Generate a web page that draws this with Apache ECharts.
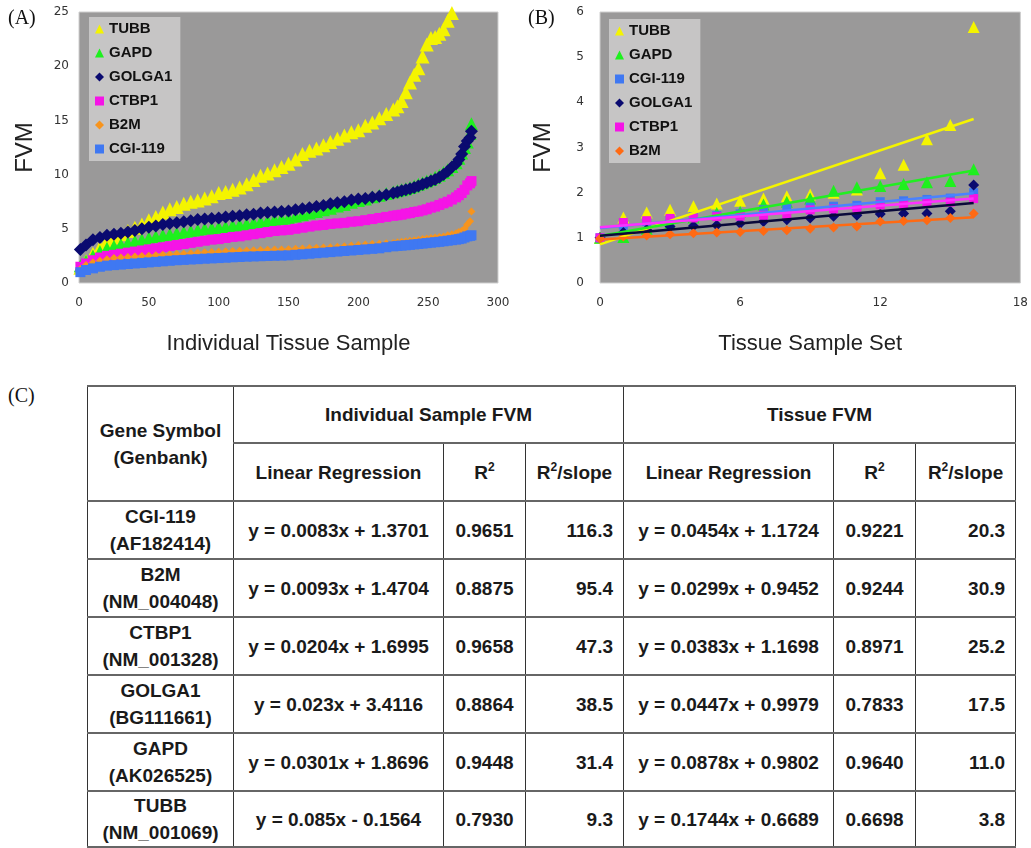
<!DOCTYPE html>
<html>
<head>
<meta charset="utf-8">
<script src="https://cdn.jsdelivr.net/npm/echarts@6/dist/echarts.min.js"></script>
<style>
  body { margin: 0; background: #fff; width: 1031px; height: 848px; position: relative; overflow: hidden; }
  #main { width: 1031px; height: 380px; position: absolute; left: 0; top: 0; }
  #labC { position: absolute; left: 8px; top: 384px; font: 20px 'Liberation Serif', serif; color: #111; }
  #tbl { position: absolute; left: 87px; top: 385px; border-collapse: collapse; table-layout: fixed; width: 928px;
         font: bold 19px 'Liberation Sans', Arial, sans-serif; color: #1a1a1a; }
  #tbl td { border-left: 1px solid #333; border-right: 1px solid #333; border-top: 2px solid #666; border-bottom: 2px solid #666;
            text-align: center; vertical-align: middle; line-height: 27px; padding: 0; }
  #tbl td.num { text-align: right; padding-right: 10px; }
  #tbl sup { font-size: 12px; vertical-align: 8px; line-height: 0; }
</style>
</head>
<body>
<div id="main"></div>
<div id="labC">(C)</div>
<table id="tbl">
  <colgroup>
    <col style="width:146px"><col style="width:210px"><col style="width:82px"><col style="width:98px">
    <col style="width:210px"><col style="width:82px"><col style="width:100px">
  </colgroup>
  <tbody id="tbody">
    <tr style="height:57px">
      <td rowspan="2">Gene Symbol<br>(Genbank)</td>
      <td colspan="3">Individual Sample FVM</td>
      <td colspan="3">Tissue FVM</td>
    </tr>
    <tr style="height:58px">
      <td>Linear Regression</td><td>R<sup>2</sup></td><td>R<sup>2</sup>/slope</td>
      <td>Linear Regression</td><td>R<sup>2</sup></td><td>R<sup>2</sup>/slope</td>
    </tr>
  </tbody>
</table>
<script>
// ---- panel A: individual tissue samples (sorted FVM) ----
const sampleIdx = [1, 5, 10, 15, 20, 25, 30, 35, 40, 45, 50, 55, 60, 65, 70, 75, 80, 85, 90, 95,
  100, 105, 110, 115, 120, 125, 130, 135, 140, 145, 150, 155, 160, 165, 170, 175, 180, 185, 190, 195,
  200, 205, 210, 215, 220, 225,
  228, 231, 234, 237, 240, 243, 246, 249, 252, 255, 258, 261, 264, 267, 270, 272, 274, 276, 278, 280, 281];

const tubbA = [1.4, 2.0, 2.7, 3.3, 3.9, 4.2, 4.5, 4.8, 5.1, 5.4, 5.8, 6.1, 6.5, 6.8, 7.0, 7.3, 7.5, 7.6, 7.8, 8.0,
  8.3, 8.4, 8.6, 8.8, 9.1, 9.5, 9.9, 10.1, 10.4, 10.7, 11.0, 11.4, 11.9, 12.2, 12.4, 12.7, 13.0, 13.3, 13.6, 13.9,
  14.1, 14.5, 14.8, 15.2, 15.6, 16.0,
  16.3, 16.8, 17.6, 18.5, 19.2, 19.8, 20.9, 22.0, 22.6, 22.7, 23.0, 23.4, 24.2, 24.9, null, null, null, null, null, null, null];
const gapdA = [1.6, 2.0, 2.5, 2.9, 3.2, 3.4, 3.55, 3.7, 3.85, 4.0, 4.15, 4.3, 4.4, 4.5, 4.6, 4.7, 4.8, 4.9, 5.0, 5.05,
  5.15, 5.2, 5.3, 5.35, 5.45, 5.55, 5.65, 5.75, 5.85, 5.95, 6.0, 6.15, 6.3, 6.45, 6.6, 6.75, 6.9, 7.1, 7.25, 7.45,
  7.6, 7.75, 7.95, 8.1, 8.25, 8.4,
  8.5, 8.6, 8.7, 8.8, 8.95, 9.1, 9.25, 9.4, 9.55, 9.75, 9.95, 10.2, 10.45, 10.75, 11.1, 11.5, 12.0, 12.5, 13.0, 13.8, 14.7];
const golgaA = [3.1, 3.5, 4.0, 4.2, 4.4, 4.5, 4.6, 4.7, 4.85, 5.0, 5.15, 5.25, 5.4, 5.5, 5.55, 5.65, 5.75, 5.85, 5.9, 5.95,
  6.0, 6.1, 6.15, 6.2, 6.3, 6.35, 6.45, 6.5, 6.55, 6.6, 6.65, 6.75, 6.85, 6.95, 7.05, 7.15, 7.3, 7.4, 7.5, 7.65,
  7.75, 7.8, 7.9, 8.0, 8.15, 8.3,
  8.4, 8.5, 8.6, 8.7, 8.8, 8.95, 9.1, 9.25, 9.4, 9.55, 9.75, 10.0, 10.3, 10.7, 11.0, 11.4, 11.9, 12.6, 13.1, 13.4, 14.0];
const ctbpA = [1.5, 1.8, 2.1, 2.35, 2.5, 2.6, 2.7, 2.8, 2.9, 3.0, 3.1, 3.2, 3.3, 3.4, 3.5, 3.6, 3.7, 3.8, 3.9, 4.0,
  4.05, 4.15, 4.25, 4.3, 4.4, 4.5, 4.6, 4.7, 4.8, 4.85, 4.9, 5.0, 5.1, 5.2, 5.3, 5.35, 5.45, 5.5, 5.55, 5.65,
  5.7, 5.8, 5.9, 6.0, 6.1, 6.2,
  6.25, 6.3, 6.4, 6.45, 6.55, 6.6, 6.7, 6.8, 6.95, 7.05, 7.2, 7.35, 7.5, 7.7, 7.9, 8.1, 8.3, 8.6, 9.0, 9.2, 9.4];
const b2mA = [1.3, 1.65, 1.9, 2.05, 2.2, 2.3, 2.35, 2.4, 2.45, 2.5, 2.52, 2.55, 2.6, 2.63, 2.67, 2.7, 2.75, 2.8, 2.83, 2.86,
  2.89, 2.92, 2.95, 2.97, 3.0, 3.02, 3.04, 3.06, 3.08, 3.1, 3.12, 3.15, 3.18, 3.22, 3.25, 3.28, 3.3, 3.35, 3.4, 3.45,
  3.5, 3.55, 3.6, 3.63, 3.66, 3.7,
  3.75, 3.8, 3.85, 3.9, 3.95, 4.0, 4.05, 4.1, 4.15, 4.2, 4.25, 4.3, 4.4, 4.5, 4.6, 4.7, 4.8, 5.0, 5.4, 5.7, 6.6];
const cgiA = [1.0, 1.2, 1.35, 1.5, 1.6, 1.65, 1.7, 1.75, 1.8, 1.85, 1.9, 1.95, 2.0, 2.05, 2.1, 2.13, 2.17, 2.2, 2.24, 2.27,
  2.3, 2.33, 2.37, 2.4, 2.43, 2.45, 2.47, 2.49, 2.51, 2.53, 2.55, 2.6, 2.65, 2.7, 2.75, 2.8, 2.85, 2.9, 2.95, 3.0,
  3.05, 3.1, 3.15, 3.2, 3.3, 3.38,
  3.42, 3.45, 3.48, 3.52, 3.56, 3.6, 3.64, 3.68, 3.72, 3.76, 3.8, 3.85, 3.9, 3.95, 4.0, 4.05, 4.1, 4.2, 4.3, 4.35, 4.4];

// ---- panel B: tissue sample sets ----
const setIdx = [0, 1, 2, 3, 4, 5, 6, 7, 8, 9, 10, 11, 12, 13, 14, 15, 16];
const tubbB = [1.0, 1.45, 1.56, 1.62, 1.70, 1.76, 1.82, 1.87, 1.92, 1.96, 2.0, 2.07, 2.43, 2.62, 3.18, 3.50, 5.67];
const gapdB = [1.0, 1.02, 1.2, 1.32, 1.45, 1.55, 1.58, 1.74, 1.80, 1.87, 2.04, 2.12, 2.15, 2.19, 2.23, 2.26, 2.52];
const cgiB = [1.0, 1.28, 1.36, 1.40, 1.46, 1.49, 1.53, 1.62, 1.66, 1.68, 1.70, 1.72, 1.80, 1.82, 1.85, 1.88, 2.0];
const golgaB = [1.0, 1.12, 1.18, 1.25, 1.26, 1.28, 1.32, 1.36, 1.40, 1.44, 1.48, 1.50, 1.53, 1.54, 1.54, 1.59, 2.17];
const ctbpB = [1.0, 1.34, 1.38, 1.43, 1.44, 1.47, 1.48, 1.50, 1.52, 1.62, 1.64, 1.66, 1.73, 1.74, 1.77, 1.79, 1.87];
const b2mB = [0.98, 1.03, 1.05, 1.08, 1.10, 1.12, 1.13, 1.15, 1.17, 1.20, 1.23, 1.25, 1.36, 1.37, 1.39, 1.44, 1.54];

// ---- table C ----
const genes = ['CGI-119', 'B2M', 'CTBP1', 'GOLGA1', 'GAPD', 'TUBB'];
const genbank = ['AF182414', 'NM_004048', 'NM_001328', 'BG111661', 'AK026525', 'NM_001069'];
const indivRegression = ['y = 0.0083x + 1.3701', 'y = 0.0093x + 1.4704', 'y = 0.0204x + 1.6995',
  'y = 0.023x + 3.4116', 'y = 0.0301x + 1.8696', 'y = 0.085x - 0.1564'];
const indivR2 = ['0.9651', '0.8875', '0.9658', '0.8864', '0.9448', '0.7930'];
const indivRatio = ['116.3', '95.4', '47.3', '38.5', '31.4', '9.3'];
const tissueRegression = ['y = 0.0454x + 1.1724', 'y = 0.0299x + 0.9452', 'y = 0.0383x + 1.1698',
  'y = 0.0447x + 0.9979', 'y = 0.0878x + 0.9802', 'y = 0.1744x + 0.6689'];
const tissueR2 = ['0.9221', '0.9244', '0.8971', '0.7833', '0.9640', '0.6698'];
const tissueRatio = ['20.3', '30.9', '25.2', '17.5', '11.0', '3.8'];

const colors = {
  TUBB: '#f4f400', GAPD: '#1ef01e', GOLGA1: '#0a0a70', CTBP1: '#f514e6',
  B2M_A: '#f7941d', B2M_B: '#ff6a13', CGI: '#3f78f2'
};

const tb = document.getElementById('tbody');
genes.forEach((g, i) => {
  const tr = document.createElement('tr');
  tr.style.height = i === 5 ? '55px' : '58px';
  tr.innerHTML = '<td>' + g + '<br>(' + genbank[i] + ')</td>' +
    '<td>' + indivRegression[i] + '</td><td>' + indivR2[i] + '</td><td class="num">' + indivRatio[i] + '</td>' +
    '<td>' + tissueRegression[i] + '</td><td>' + tissueR2[i] + '</td><td class="num">' + tissueRatio[i] + '</td>';
  tb.appendChild(tr);
});

function pairs(xs, ys) { return xs.map((x, i) => [x, ys[i]]); }

// least squares trend line over the set data
function trend(xs, ys) {
  const n = xs.length;
  const mx = xs.reduce((a, b) => a + b, 0) / n;
  const my = ys.reduce((a, b) => a + b, 0) / n;
  let sxy = 0, sxx = 0;
  xs.forEach((x, i) => { sxy += (x - mx) * (ys[i] - my); sxx += (x - mx) * (x - mx); });
  const m = sxy / sxx, b = my - m * mx;
  const x0 = xs[0], x1 = xs[n - 1];
  return [[x0, b + m * x0], [x1, b + m * x1]];
}

const labelFont = { color: '#333', fontSize: 12, fontFamily: 'DejaVu Sans' };
const nameFont = { color: '#222', fontSize: 22, fontFamily: 'Liberation Sans' };
const legendText = { fontSize: 15, fontWeight: 'bold', color: '#111', fontFamily: 'Liberation Sans', lineHeight: 16 };

function scat(name, xi, yi, data, symbol, size, color) {
  return { name: name, type: 'scatter', xAxisIndex: xi, yAxisIndex: yi, data: data, symbol: symbol,
    symbolSize: size, itemStyle: { color: color, opacity: 1 }, silent: true };
}
function fitLine(name, data, color) {
  return { name: name, type: 'line', xAxisIndex: 1, yAxisIndex: 1, data: data, showSymbol: false, symbol: 'none',
    lineStyle: { color: color, width: 2.5 }, z: 5, silent: true };
}

const chart = echarts.init(document.getElementById('main'));
chart.setOption({
  animation: false,
  grid: [
    { left: 79, top: 12, width: 419, height: 271, show: true, backgroundColor: '#9a9999', borderColor: '#cfcfcf', borderWidth: 1 },
    { left: 600, top: 12, width: 423, height: 271, show: true, backgroundColor: '#9a9999', borderColor: '#cfcfcf', borderWidth: 1 }
  ],
  xAxis: [
    { gridIndex: 0, type: 'value', min: 0, max: 300, interval: 50, splitLine: { show: false },
      axisLine: { show: false }, axisTick: { show: false }, axisLabel: Object.assign({ margin: 14 }, labelFont),
      name: 'Individual Tissue Sample', nameLocation: 'middle', nameGap: 50, nameTextStyle: nameFont },
    { gridIndex: 1, type: 'value', min: 0, max: 18, interval: 6, splitLine: { show: false },
      axisLine: { show: false }, axisTick: { show: false }, axisLabel: Object.assign({ margin: 14 }, labelFont),
      name: 'Tissue Sample Set', nameLocation: 'middle', nameGap: 50, nameTextStyle: nameFont }
  ],
  yAxis: [
    { gridIndex: 0, type: 'value', min: 0, max: 25, interval: 5, splitLine: { show: false },
      axisLine: { show: false }, axisTick: { show: false }, axisLabel: Object.assign({ margin: 10 }, labelFont),
      name: 'FVM', nameLocation: 'middle', nameGap: 42, nameTextStyle: Object.assign({}, nameFont, { fontSize: 24 }) },
    { gridIndex: 1, type: 'value', min: 0, max: 6, interval: 1, splitLine: { show: false },
      axisLine: { show: false }, axisTick: { show: false }, axisLabel: Object.assign({ margin: 16 }, labelFont),
      name: 'FVM', nameLocation: 'middle', nameGap: 45, nameTextStyle: Object.assign({}, nameFont, { fontSize: 24 }) }
  ],
  legend: [
    { left: 89, top: 17, orient: 'vertical', backgroundColor: '#c6c5c5', padding: [4, 8, 4, 6], itemWidth: 9, itemHeight: 9,
      itemGap: 8, selectedMode: false, textStyle: legendText,
      data: [
        { name: 'TUBB', icon: 'triangle', itemStyle: { color: colors.TUBB } },
        { name: 'GAPD', icon: 'triangle', itemStyle: { color: colors.GAPD } },
        { name: 'GOLGA1', icon: 'diamond', itemStyle: { color: colors.GOLGA1 } },
        { name: 'CTBP1', icon: 'rect', itemStyle: { color: colors.CTBP1 } },
        { name: 'B2M', icon: 'diamond', itemStyle: { color: colors.B2M_A } },
        { name: 'CGI-119', icon: 'rect', itemStyle: { color: colors.CGI } }
      ] },
    { left: 609, top: 19, orient: 'vertical', backgroundColor: '#c6c5c5', padding: [4, 8, 4, 6], itemWidth: 9, itemHeight: 9,
      itemGap: 8, selectedMode: false, textStyle: legendText,
      data: [
        { name: 'TUBB', icon: 'triangle', itemStyle: { color: colors.TUBB } },
        { name: 'GAPD', icon: 'triangle', itemStyle: { color: colors.GAPD } },
        { name: 'CGI-119', icon: 'rect', itemStyle: { color: colors.CGI } },
        { name: 'GOLGA1', icon: 'diamond', itemStyle: { color: colors.GOLGA1 } },
        { name: 'CTBP1', icon: 'rect', itemStyle: { color: colors.CTBP1 } },
        { name: 'B2M', icon: 'diamond', itemStyle: { color: colors.B2M_B } }
      ] }
  ],
  graphic: [
    { type: 'text', left: 8, top: 9, style: { text: '(A)', font: '20px "Liberation Serif", serif', fill: '#111' } },
    { type: 'text', left: 528, top: 9, style: { text: '(B)', font: '20px "Liberation Serif", serif', fill: '#111' } }
  ],
  series: [
    scat('TUBB', 0, 0, pairs(sampleIdx, tubbA), 'triangle', 14, colors.TUBB),
    scat('GAPD', 0, 0, pairs(sampleIdx, gapdA), 'triangle', 13, colors.GAPD),
    scat('GOLGA1', 0, 0, pairs(sampleIdx, golgaA), 'diamond', 13, colors.GOLGA1),
    scat('CTBP1', 0, 0, pairs(sampleIdx, ctbpA), 'rect', 10, colors.CTBP1),
    scat('B2M', 0, 0, pairs(sampleIdx, b2mA), 'diamond', 8, colors.B2M_A),
    scat('CGI-119', 0, 0, pairs(sampleIdx, cgiA), 'rect', 10, colors.CGI),

    scat('TUBB', 1, 1, pairs(setIdx, tubbB), 'triangle', 12, colors.TUBB),
    scat('GAPD', 1, 1, pairs(setIdx, gapdB), 'triangle', 12, colors.GAPD),
    scat('CGI-119', 1, 1, pairs(setIdx, cgiB), 'rect', 9, colors.CGI),
    scat('GOLGA1', 1, 1, pairs(setIdx, golgaB), 'diamond', 11, colors.GOLGA1),
    scat('CTBP1', 1, 1, pairs(setIdx, ctbpB), 'rect', 9, colors.CTBP1),
    scat('B2M', 1, 1, pairs(setIdx, b2mB), 'diamond', 10, colors.B2M_B),

    fitLine('TUBB fit', trend(setIdx, tubbB), '#f4f400'),
    fitLine('GAPD fit', trend(setIdx, gapdB), '#22ee22'),
    fitLine('CGI-119 fit', trend(setIdx, cgiB), '#4a82ff'),
    fitLine('GOLGA1 fit', trend(setIdx, golgaB), '#0a0a3a'),
    fitLine('CTBP1 fit', trend(setIdx, ctbpB), '#ff30ff'),
    fitLine('B2M fit', trend(setIdx, b2mB), '#ff6a13')
  ]
});
</script>
</body>
</html>
